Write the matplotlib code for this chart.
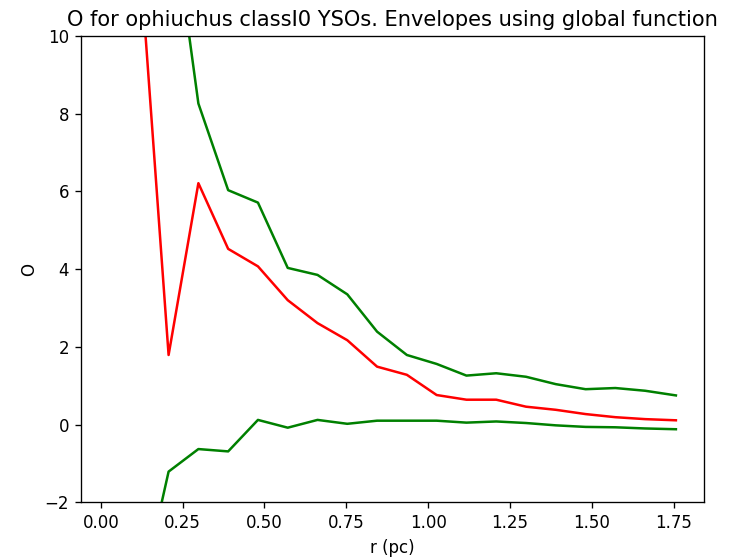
import numpy as np
import matplotlib
matplotlib.use('Agg')
import matplotlib.pyplot as plt

# radial bins (pc) and O-ring statistic with envelope
r = [0.025, 0.116, 0.207, 0.298, 0.389, 0.480, 0.571, 0.662, 0.753, 0.844,
     0.935, 1.026, 1.117, 1.208, 1.299, 1.390, 1.481, 1.572, 1.663, 1.757]
O = [30.0, 12.4, 1.79, 6.21, 4.52, 4.07, 3.20, 2.61, 2.17, 1.49,
     1.28, 0.76, 0.64, 0.64, 0.46, 0.38, 0.27, 0.19, 0.14, 0.11]
env_hi = [45.0, 25.0, 13.9, 8.26, 6.03, 5.71, 4.03, 3.85, 3.35, 2.39,
          1.79, 1.56, 1.26, 1.32, 1.23, 1.04, 0.91, 0.94, 0.87, 0.75]
env_lo = [-10.0, -4.63, -1.21, -0.63, -0.69, 0.12, -0.08, 0.12, 0.02, 0.10,
          0.10, 0.10, 0.05, 0.08, 0.04, -0.02, -0.06, -0.07, -0.10, -0.12]

fig = plt.figure(figsize=(745/120, 560/120), dpi=120)
ax = fig.add_axes([0.1083, 0.103, 0.837, 0.833])
ax.plot(r, O, color='r')
ax.plot(r, env_hi, color='g')
ax.plot(r, env_lo, color='g')
ax.set_ylim(-2, 10)
ax.set_xlabel('r (pc)')
ax.set_ylabel('O')
ax.set_title('O for ophiuchus classI0 YSOs. Envelopes using global function', fontsize=12.6)

fig.savefig('out.png', dpi=120)
